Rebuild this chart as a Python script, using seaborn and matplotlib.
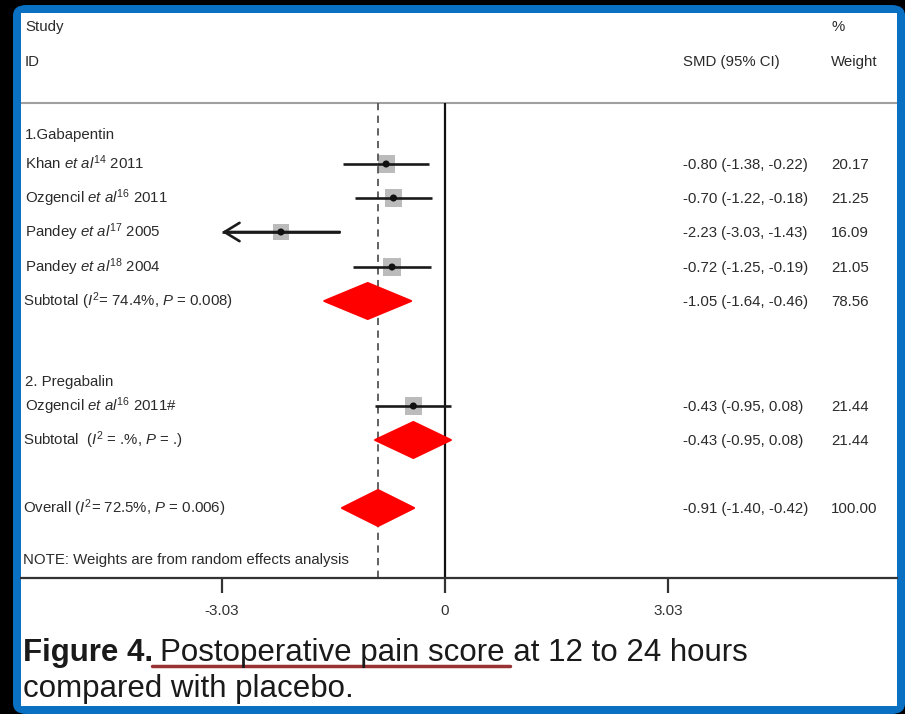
import numpy as np
import pandas as pd
import matplotlib
matplotlib.use("Agg")
import matplotlib.pyplot as plt
import seaborn as sns
from matplotlib import font_manager
from matplotlib.patches import Polygon, FancyBboxPatch, Rectangle
from matplotlib.lines import Line2D

# ---------------- data ----------------
study_labels = [
    r"Khan $\mathit{et\ al}^{\mathrm{14}}$ 2011",
    r"Ozgencil $\mathit{et\ al}^{\mathrm{16}}$ 2011",
    r"Pandey $\mathit{et\ al}^{\mathrm{17}}$ 2005",
    r"Pandey $\mathit{et\ al}^{\mathrm{18}}$ 2004",
    r"Ozgencil $\mathit{et\ al}^{\mathrm{16}}$ 2011#",
]
study_est = [-0.80, -0.70, -2.23, -0.72, -0.43]
study_lo = [-1.38, -1.22, -3.03, -1.25, -0.95]
study_hi = [-0.22, -0.18, -1.43, -0.19, 0.08]
study_weight = [20.17, 21.25, 16.09, 21.05, 21.44]
study_ci_text = ["-0.80 (-1.38, -0.22)", "-0.70 (-1.22, -0.18)", "-2.23 (-3.03, -1.43)",
                 "-0.72 (-1.25, -0.19)", "-0.43 (-0.95, 0.08)"]
study_w_text = ["20.17", "21.25", "16.09", "21.05", "21.44"]
study_arrow_left = [False, False, True, False, False]

pooled_labels = [
    r"Subtotal ($\mathit{I}^{\mathrm{2}}$= 74.4%, $\mathit{P}$ = 0.008)",
    r"Subtotal  ($\mathit{I}^{\mathrm{2}}$ = .%, $\mathit{P}$ = .)",
    r"Overall ($\mathit{I}^{\mathrm{2}}$= 72.5%, $\mathit{P}$ = 0.006)",
]
pooled_est = [-1.05, -0.43, -0.91]
pooled_lo = [-1.64, -0.95, -1.40]
pooled_hi = [-0.46, 0.08, -0.42]
pooled_ci_text = ["-1.05 (-1.64, -0.46)", "-0.43 (-0.95, 0.08)", "-0.91 (-1.40, -0.42)"]
pooled_w_text = ["78.56", "21.44", "100.00"]

group_labels = ["1.Gabapentin", "2. Pregabalin"]
overall_est = -0.91
tick_values = [-3.03, 0, 3.03]
tick_labels = ["-3.03", "0", "3.03"]

# ---------------- layout (pixel rows) ----------------
W, H = 905, 714
study_rows = [164, 198, 232, 267, 406]
pooled_rows = [301, 440, 508]
group_rows = [134, 381]
header_rows = [26, 61]
top_rule_y = 103
axis_y = 578
x0_px = 445.0
px_per_unit = 223.0 / 3.03


def px2x(px):
    return (px - x0_px) / px_per_unit


sns.set_theme(style="white")
names = {f.name for f in font_manager.fontManager.ttflist}
narrow = "Liberation Sans Narrow" if "Liberation Sans Narrow" in names else "Liberation Sans"
plt.rcParams["font.family"] = ["Liberation Sans", "DejaVu Sans"]
plt.rcParams["mathtext.fontset"] = "custom"
plt.rcParams["mathtext.rm"] = "Liberation Sans"
plt.rcParams["mathtext.it"] = "Liberation Sans:italic"
plt.rcParams["mathtext.bf"] = "Liberation Sans:bold"

fig = plt.figure(figsize=(W / 100, H / 100), dpi=100, facecolor="black")

# frame
frame = FancyBboxPatch((13 / W, 0), (W - 13) / W, (H - 5) / H,
                       boxstyle="round,pad=0,rounding_size=0.015",
                       transform=fig.transFigure, facecolor="#0a70c2",
                       edgecolor="none", zorder=-2)
fig.patches.append(frame)
inner = Rectangle((21 / W, (H - 706) / H), (897 - 21) / W, (706 - 13) / H,
                  transform=fig.transFigure, facecolor="white", edgecolor="none", zorder=-1)
fig.patches.append(inner)

ax = fig.add_axes([21 / W, (H - 706) / H, (897 - 21) / W, (706 - 13) / H])
ax.set_facecolor("none")

# CI lines
ax.hlines(study_rows, study_lo, study_hi, color="#1a1a1a", lw=1.9, zorder=3)
for arrow, lo, hi, y in zip(study_arrow_left, study_lo, study_hi, study_rows):
    if arrow:
        ax.annotate("", xy=(lo, y), xytext=(hi, y),
                    arrowprops=dict(arrowstyle="->,head_length=0.9,head_width=0.55",
                                    lw=1.9, color="#1a1a1a", shrinkA=0, shrinkB=0),
                    zorder=3)

df = pd.DataFrame({"est": study_est, "row": study_rows, "w": study_weight})
sns.scatterplot(data=df, x="est", y="row", marker="s", s=np.array(study_weight) * 7.5,
                color="#b4b4b4", edgecolor="none", alpha=0.9, legend=False, ax=ax, zorder=2)
sns.scatterplot(data=df, x="est", y="row", marker="o", s=26, color="#111111",
                edgecolor="none", legend=False, ax=ax, zorder=4)

# diamonds
half_h = 18
for e, lo, hi, y in zip(pooled_est, pooled_lo, pooled_hi, pooled_rows):
    poly = Polygon([(lo, y), (e, y - half_h), (hi, y), (e, y + half_h)], closed=True,
                   facecolor="#ff0000", edgecolor="#ff0000", lw=1.5, joinstyle="round",
                   zorder=3)
    ax.add_patch(poly)

ax.set_xlim(px2x(21), px2x(897))
ax.set_ylim(706, 13)
ax.set_xlabel("")
ax.set_ylabel("")
for s in ["top", "left", "right"]:
    ax.spines[s].set_visible(False)
ax.spines["bottom"].set_position(("data", axis_y))
ax.spines["bottom"].set_color("#333333")
ax.spines["bottom"].set_linewidth(1.6)
ax.set_yticks([])
ax.set_xticks(tick_values)
ax.set_xticklabels(tick_labels, fontfamily=narrow, fontsize=11, color="#333333")
ax.tick_params(axis="x", direction="out", length=11, width=1.6, color="#333333", pad=8,
               bottom=True)

# rules
ax.axhline(top_rule_y, color="#a0a0a0", lw=1.5)
ax.vlines(0, top_rule_y, axis_y, color="#111111", lw=1.6)
ax.vlines(overall_est, top_rule_y, axis_y, color="#555555", lw=1.3, linestyles=(0, (4, 3)))

# text
tc = "#2b2b2b"
fs = 10.8
lab_x = px2x(25)
smd_x = px2x(683)
w_x = px2x(831)
bl = 5  # baseline offset

ax.text(lab_x, header_rows[0] + bl, "Study", fontsize=fs, color=tc, va="baseline")
ax.text(lab_x, header_rows[1] + bl, "ID", fontsize=fs, color=tc, va="baseline")
ax.text(smd_x, header_rows[1] + bl, "SMD (95% CI)", fontsize=fs, color=tc, va="baseline")
ax.text(w_x, header_rows[0] + bl, "%", fontsize=fs, color=tc, va="baseline")
ax.text(w_x, header_rows[1] + bl, "Weight", fontsize=fs, color=tc, va="baseline")

for g, y in zip(group_labels, group_rows):
    ax.text(lab_x, y + bl, g, fontsize=fs, color=tc, va="baseline")
for lab, ci, wt, y in zip(study_labels, study_ci_text, study_w_text, study_rows):
    ax.text(lab_x, y + bl, lab, fontsize=fs, color=tc, va="baseline")
    ax.text(smd_x, y + bl, ci, fontsize=fs, color=tc, va="baseline")
    ax.text(w_x, y + bl, wt, fontsize=fs, color=tc, va="baseline")
for lab, ci, wt, y in zip(pooled_labels, pooled_ci_text, pooled_w_text, pooled_rows):
    ax.text(px2x(23), y + bl, lab, fontsize=fs, color=tc, va="baseline")
    ax.text(smd_x, y + bl, ci, fontsize=fs, color=tc, va="baseline")
    ax.text(w_x, y + bl, wt, fontsize=fs, color=tc, va="baseline")
ax.text(px2x(23), 559 + bl, "NOTE: Weights are from random effects analysis",
        fontsize=fs, color=tc, va="baseline")

# caption
cap_fs = 22.5
fig.text(23 / W, 1 - 661 / H, "Figure 4.", fontweight="bold",
         fontsize=cap_fs, fontfamily=narrow, color="#1a1a1a", va="baseline")
fig.text(160 / W, 1 - 661 / H, "Postoperative pain score at 12 to 24 hours",
         fontsize=cap_fs, fontfamily=narrow, color="#1a1a1a", va="baseline")
fig.text(23 / W, 1 - 697 / H, "compared with placebo.",
         fontsize=cap_fs, fontfamily=narrow, color="#1a1a1a", va="baseline")
fig.lines.append(Line2D([152 / W, 510 / W], [1 - 666 / H, 1 - 666 / H],
                        transform=fig.transFigure, color="#993333", lw=2.5))

fig.savefig("out.png", dpi=100, facecolor="black")
